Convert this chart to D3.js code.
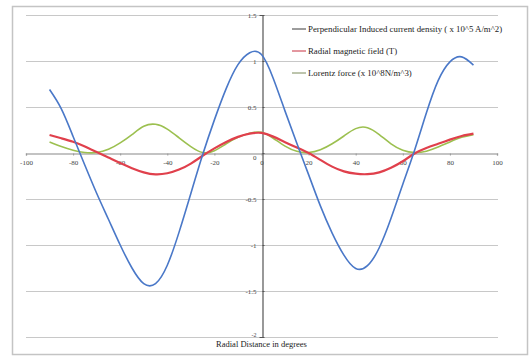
<!DOCTYPE html>
<html><head><meta charset="utf-8">
<script src="https://cdn.jsdelivr.net/npm/d3@7"></script>
<style>body{margin:0;background:#fff}svg{display:block}</style>
</head><body>
<svg id="c" width="531" height="356"></svg>
<script>
const angles = [-90,-85,-80,-75,-70,-65,-60,-55,-50,-45,-40,-35,-30,-25,-20,-15,-10,-5,0,5,10,15,20,25,30,35,40,45,50,55,60,65,70,75,80,85,90];
const currentDensity = [0.69,0.48,0.18,-0.133,-0.437,-0.72,-1.0,-1.25,-1.42,-1.42,-1.22,-0.86,-0.44,-0.02,0.36,0.70,0.96,1.09,1.07,0.81,0.455,0.105,-0.235,-0.575,-0.87,-1.11,-1.255,-1.225,-1.03,-0.71,-0.34,0.03,0.434,0.786,0.99,1.045,0.955];
const magneticField = [0.195,0.16,0.122,0.07,0.01,-0.05,-0.11,-0.165,-0.21,-0.232,-0.22,-0.18,-0.115,-0.03,0.05,0.12,0.175,0.21,0.218,0.178,0.118,0.06,0.0,-0.075,-0.148,-0.2,-0.225,-0.23,-0.21,-0.16,-0.09,-0.005,0.055,0.1,0.145,0.185,0.21];
const lorentzForce = [0.12,0.07,0.03,0.005,0.005,0.04,0.11,0.2,0.29,0.312,0.26,0.165,0.07,0.005,0.025,0.1,0.17,0.215,0.225,0.16,0.075,0.018,0.005,0.035,0.1,0.185,0.265,0.275,0.2,0.1,0.03,0.005,0.02,0.065,0.12,0.17,0.2];
const xTicks = [-100,-80,-60,-40,-20,0,20,40,60,80,100];
const yTicks = [1.5,1,0.5,0,-0.5,-1,-1.5,-2];
const seriesNames = ["Perpendicular Induced current density ( x 10^5 A/m^2)","Radial magnetic field (T)","Lorentz force (x 10^8N/m^3)"];
const seriesColors = ["#4a78c8","#e0404c","#9cc050"];
const legendColors = ["#3a3a3a","#c83040","#7a8a5a"];
const xTitle = "Radial Distance in degrees";

const svg = d3.select("#c");
const font = "'Liberation Serif', 'DejaVu Serif', serif";
const x = d3.scaleLinear().domain([-100,100]).range([26,497]);
const y = d3.scaleLinear().domain([-2,1.5]).range([337,15]);

// outer frame
svg.append("rect").attr("x",12.5).attr("y",6.5).attr("width",515).attr("height",348)
  .attr("fill","none").attr("stroke","#c4c4c4").attr("stroke-width",1.5);

// gridlines
svg.append("g").selectAll("line").data(yTicks.filter(d=>d!==0)).join("line")
  .attr("x1",x(-100)).attr("x2",x(100)+1)
  .attr("y1",d=>Math.round(y(d))+0.5).attr("y2",d=>Math.round(y(d))+0.5)
  .attr("stroke","#c8c8c8").attr("stroke-width",1.2);

// x axis at y=0
const xAxis = svg.append("g").attr("transform",`translate(0,${Math.round(y(0))+0.5})`)
  .call(d3.axisBottom(x).tickValues(xTicks).tickSize(2).tickFormat(d=>d));
xAxis.select(".domain").attr("stroke","#b0b0b0").attr("stroke-width",1.5);
xAxis.selectAll(".tick line").attr("stroke","#999");
xAxis.selectAll("text").attr("font-family",font).attr("font-size",7).attr("fill","#444").attr("dy","0.9em");

// y axis at x=0
const yAxis = svg.append("g").attr("transform",`translate(${Math.round(x(0))+0.5},0)`)
  .call(d3.axisLeft(y).tickValues(yTicks).tickSize(3).tickPadding(3).tickFormat(d=>d));
yAxis.select(".domain").attr("stroke","#555").attr("stroke-width",1.2);
yAxis.selectAll(".tick line").attr("stroke","#555").attr("x2",2);
yAxis.selectAll("text").attr("font-family",font).attr("font-size",7).attr("fill","#444");
yAxis.selectAll(".tick").filter(d=>d===0).select("text").attr("dy","0.9em");
yAxis.selectAll(".tick").filter(d=>d===-2).select("text").attr("dy","-0.1em").attr("font-size",6);

// series
const data = [currentDensity, magneticField, lorentzForce];
const widths = [1.6,2.2,1.6];
const line = d3.line().x((d,i)=>x(angles[i])).y(d=>y(d)).curve(d3.curveNatural);
[2,1,0].forEach(k=>{
  svg.append("path").attr("d",line(data[k])).attr("fill","none")
    .attr("stroke",seriesColors[k]).attr("stroke-width",widths[k]);
});

// legend
const lg = svg.append("g");
[29,51,73].forEach((ly,i)=>{
  lg.append("line").attr("x1",292).attr("x2",306).attr("y1",ly).attr("y2",ly)
    .attr("stroke",legendColors[i]).attr("stroke-width",1);
  lg.append("text").attr("x",308).attr("y",ly).attr("dy","0.33em")
    .attr("font-family",font).attr("font-size",8.8).attr("fill","#222").text(seriesNames[i]);
});

// x title
svg.append("text").attr("x",x(0)).attr("y",344).attr("dy","0.33em").attr("text-anchor","middle")
  .attr("font-family",font).attr("font-size",8.5).attr("fill","#222").text(xTitle);
</script>
</body></html>
